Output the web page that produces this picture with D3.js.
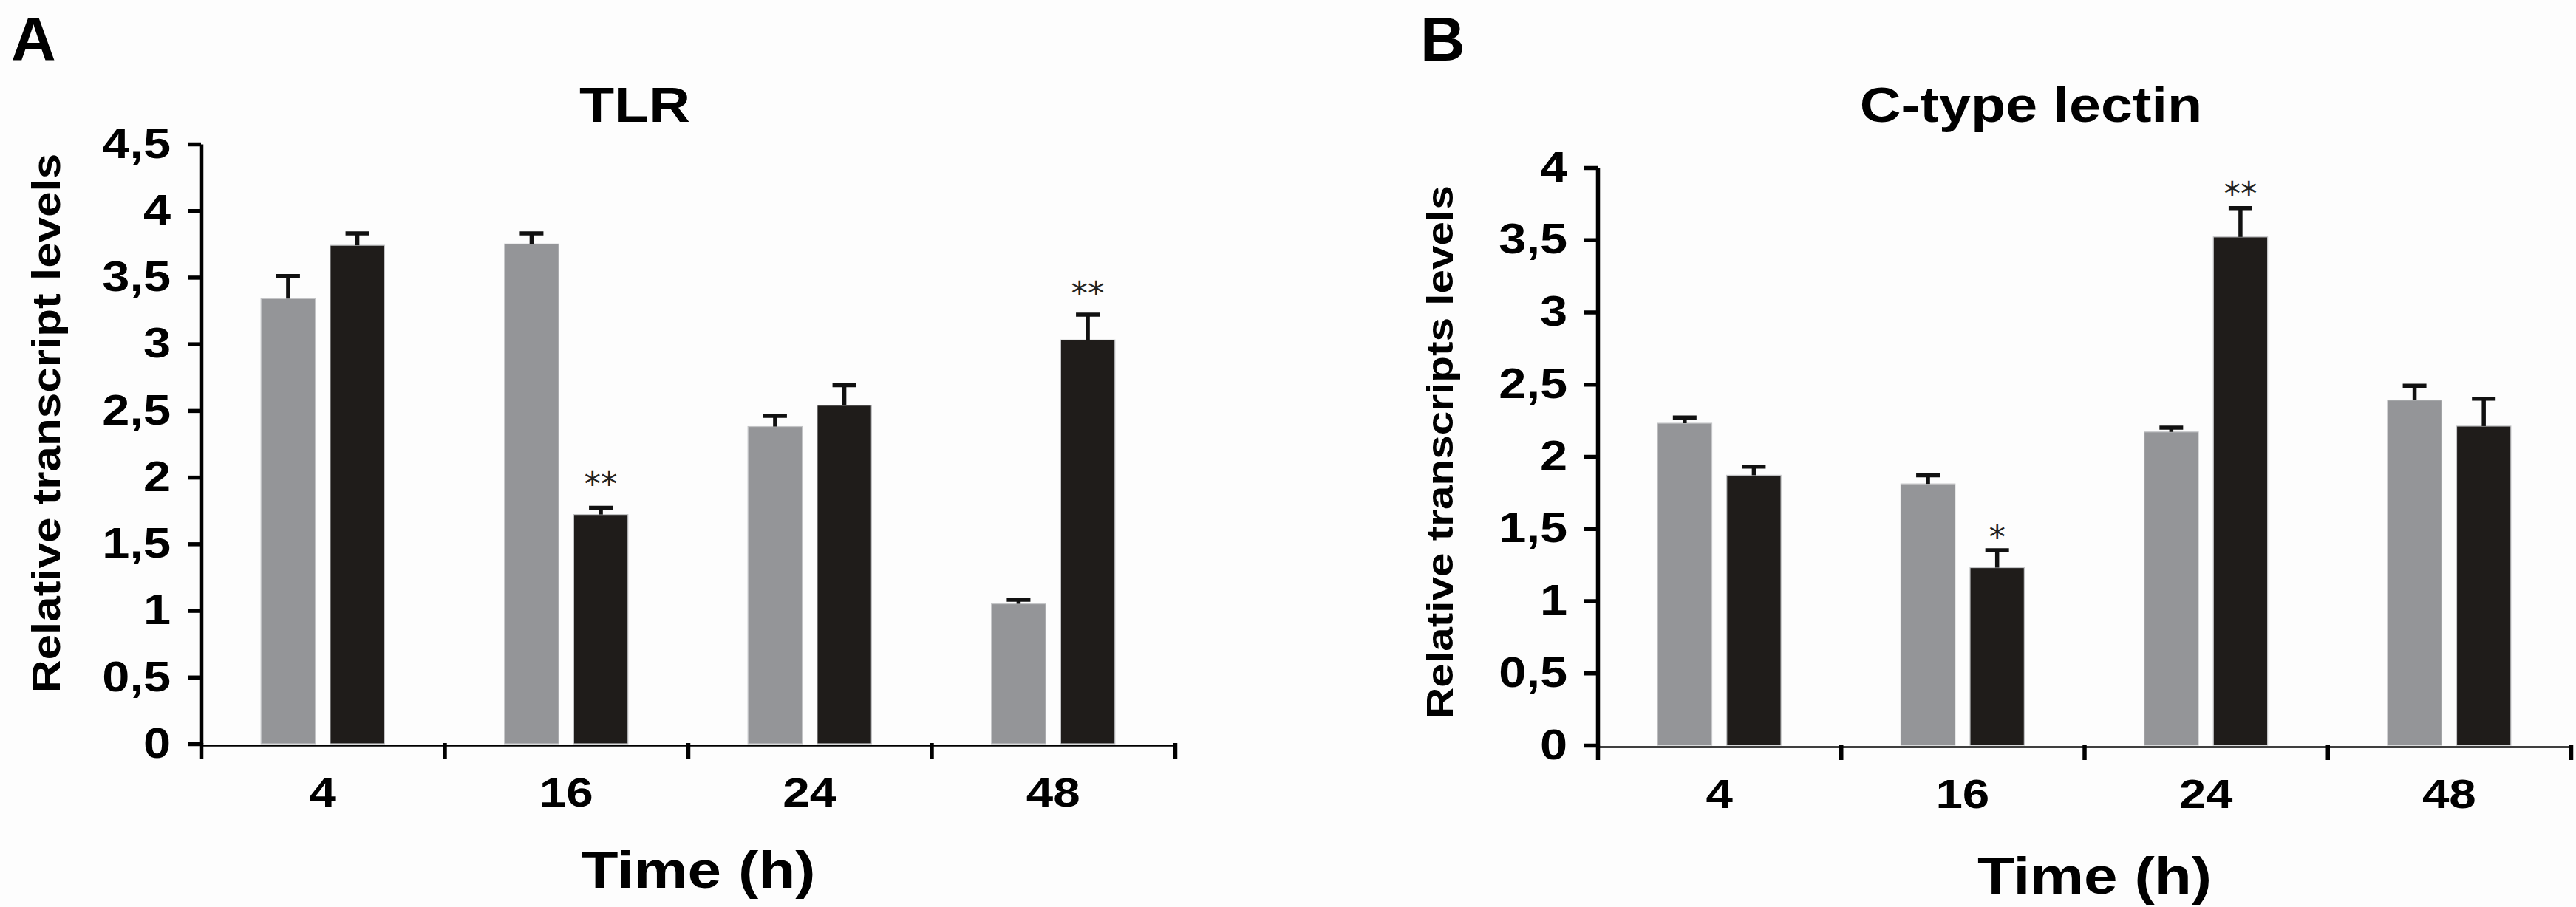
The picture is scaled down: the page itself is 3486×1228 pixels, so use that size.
<!DOCTYPE html>
<html>
<head>
<meta charset="utf-8">
<script src="https://cdn.jsdelivr.net/npm/d3@7"></script>
<style>
  body { margin: 0; background: #fdfdfd; }
  svg { display: block; }
  text { font-family: "Liberation Sans", Arial, sans-serif; font-weight: bold; fill: #000; }
</style>
</head>
<body>
<div id="chart"></div>
<script>
/* DATA */
const times = ["4", "16", "24", "48"];
const groups = ["control", "treated"];

// panel A - TLR
const tlrControl = [3.34, 3.75, 2.38, 1.05];
const tlrControlErr = [0.17, 0.08, 0.08, 0.03];
const tlrTreated = [3.74, 1.72, 2.54, 3.03];
const tlrTreatedErr = [0.09, 0.05, 0.15, 0.19];
const tlrStars = ["", "**", "", "**"];
const tlrStarLevel = [0, 1.95, 0, 3.38];   // bottom of the asterisks, in data units
const tlrTicks = [0, 0.5, 1, 1.5, 2, 2.5, 3, 3.5, 4, 4.5];

// panel B - C-type lectin
const lecControl = [2.23, 1.81, 2.17, 2.39];
const lecControlErr = [0.04, 0.06, 0.03, 0.10];
const lecTreated = [1.87, 1.23, 3.52, 2.21];
const lecTreatedErr = [0.06, 0.12, 0.20, 0.19];
const lecStars = ["", "*", "**", ""];
const lecStarLevel = [0, 1.44, 3.82, 0];
const lecTicks = [0, 0.5, 1, 1.5, 2, 2.5, 3, 3.5, 4];

/* CONSTANTS */
const width = 3486, height = 1228;
const K = 1.17; // horizontal stretch of the lettering
const colors = { control: "#949598", treated: "#1f1c1a" };

const svg = d3.select("#chart").append("svg")
  .attr("width", width)
  .attr("height", height)
  .style("background", "#fdfdfd");

// stretched text helper
function label(g, x, y, str, size, rot, anchor) {
  return g.append("text")
    .attr("transform", `translate(${x},${y}) rotate(${rot || 0}) scale(${K},1)`)
    .attr("text-anchor", anchor || "middle")
    .attr("font-size", size)
    .text(str);
}

function drawPanel(opt) {
  const g = svg.append("g");

  const x0 = d3.scaleBand().domain(times).range([opt.left, opt.right]);
  const x1 = d3.scaleBand().domain(groups).range([0, x0.bandwidth()])
    .paddingInner(0.216).paddingOuter(0.867);
  const y = d3.scaleLinear().domain([0, opt.yMax]).range([opt.bottom, opt.top]);

  const rows = times.map((t, i) => ({
    t,
    vals: [
      { g: "control", v: opt.ctrl[i], e: opt.ctrlErr[i] },
      { g: "treated", v: opt.treat[i], e: opt.treatErr[i] }
    ]
  }));

  // bars
  const grp = g.selectAll(".grp")
    .data(rows)
    .join("g")
    .attr("class", "grp")
    .attr("transform", d => `translate(${x0(d.t)},0)`);

  grp.selectAll("rect")
    .data(d => d.vals)
    .join("rect")
    .attr("x", d => x1(d.g))
    .attr("y", d => y(d.v))
    .attr("width", x1.bandwidth())
    .attr("height", d => y(0) - y(d.v))
    .attr("fill", d => colors[d.g])
    .attr("stroke", "#c4c5c7")
    .attr("stroke-width", 1.2);

  // error bars
  const eb = grp.selectAll(".err")
    .data(d => d.vals)
    .join("g")
    .attr("class", "err")
    .attr("stroke", "#111")
    .attr("stroke-width", 5.5);
  eb.append("line")
    .attr("x1", d => x1(d.g) + x1.bandwidth() / 2)
    .attr("x2", d => x1(d.g) + x1.bandwidth() / 2)
    .attr("y1", d => y(d.v))
    .attr("y2", d => y(d.v + d.e));
  eb.append("line")
    .attr("x1", d => x1(d.g) + x1.bandwidth() / 2 - 16)
    .attr("x2", d => x1(d.g) + x1.bandwidth() / 2 + 16)
    .attr("y1", d => y(d.v + d.e))
    .attr("y2", d => y(d.v + d.e));

  // significance marks over the treated bars
  opt.stars.forEach((s, i) => {
    if (!s) return;
    g.append("text")
      .attr("x", x0(times[i]) + x1("treated") + x1.bandwidth() / 2)
      .attr("y", y(opt.starLevel[i]) + 16)
      .attr("text-anchor", "middle")
      .style("font-family", "'DejaVu Sans', sans-serif")
      .style("font-weight", "normal")
      .style("fill", "#222")
      .attr("font-size", 45)
      .text(s);
  });

  // y axis
  const yAxis = d3.axisLeft(y)
    .tickValues(opt.ticks)
    .tickSize(18)
    .tickSizeOuter(0)
    .tickPadding(23)
    .tickFormat(d => String(d).replace(".", ","));
  const yg = g.append("g")
    .attr("transform", `translate(${opt.left},0)`)
    .call(yAxis);
  yg.select(".domain").attr("stroke", "#000").attr("stroke-width", 5.5);
  yg.selectAll(".tick line").attr("stroke", "#000").attr("stroke-width", 5.5);
  yg.selectAll(".tick text")
    .attr("font-family", null)
    .attr("font-size", 57)
    .attr("x", -(18 + 23) / K)
    .attr("transform", `scale(${K},1)`);

  // x axis: line with ticks at the group boundaries
  const xb = d3.scaleLinear().domain([0, times.length]).range([opt.left, opt.right]);
  const xg = g.append("g")
    .attr("transform", `translate(0,${y(0) + 2})`)
    .call(d3.axisBottom(xb).tickValues(d3.range(times.length + 1)).tickSize(18).tickSizeOuter(0).tickFormat(""));
  xg.select(".domain").attr("stroke", "#000").attr("stroke-width", 2.5);
  xg.selectAll(".tick line").attr("stroke", "#000").attr("stroke-width", 5.5).attr("y1", -3);

  // x labels at group centres
  const xl = g.append("g")
    .attr("transform", `translate(0,${y(0)})`)
    .call(d3.axisBottom(x0).tickSize(0).tickPadding(45));
  xl.select(".domain").remove();
  xl.selectAll(".tick text")
    .attr("font-family", null)
    .attr("font-size", 56)
    .attr("transform", `scale(${K},1)`);

  const cx = (opt.left + opt.right) / 2;

  // titles and axis labels
  label(g, cx - 72, 165, opt.title, 66);
  label(g, cx + 14, opt.timeY, "Time (h)", 70);
  label(g, opt.yLabelX, opt.yLabelY, opt.yLabel, opt.yLabelSize, -90);

  g.append("text")
    .attr("x", opt.letterX)
    .attr("y", 82)
    .attr("font-size", 84)
    .text(opt.letter);
}

drawPanel({
  letter: "A", letterX: 15,
  title: "TLR",
  yLabel: "Relative transcript levels", yLabelSize: 53, yLabelX: 81, yLabelY: 573,
  left: 272, right: 1590, bottom: 1007, top: 195, yMax: 4.5, ticks: tlrTicks,
  ctrl: tlrControl, ctrlErr: tlrControlErr, treat: tlrTreated, treatErr: tlrTreatedErr,
  stars: tlrStars, starLevel: tlrStarLevel,
  timeY: 1202
});

drawPanel({
  letter: "B", letterX: 1922,
  title: "C-type lectin",
  yLabel: "Relative transcripts levels", yLabelSize: 50, yLabelX: 1966, yLabelY: 612,
  left: 2162, right: 3479, bottom: 1009, top: 227, yMax: 4, ticks: lecTicks,
  ctrl: lecControl, ctrlErr: lecControlErr, treat: lecTreated, treatErr: lecTreatedErr,
  stars: lecStars, starLevel: lecStarLevel,
  timeY: 1210
});
</script>
</body>
</html>
